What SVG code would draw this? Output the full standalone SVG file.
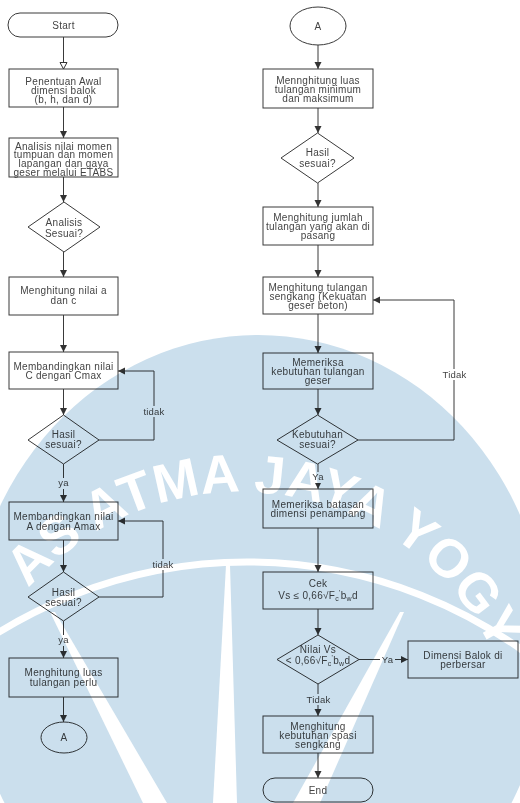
<svg xmlns="http://www.w3.org/2000/svg" width="520" height="803" viewBox="0 0 520 803">
<defs>
<style>
.n{fill:none;stroke:#3a3a3a;stroke-width:1}
.t{font-family:"Liberation Sans",Arial,sans-serif;font-size:10px;fill:#444;text-anchor:middle;letter-spacing:0.3px}
.l{font-family:"Liberation Sans",Arial,sans-serif;font-size:9.5px;fill:#444;text-anchor:middle;letter-spacing:0.2px}
.c{fill:none;stroke:#3a3a3a;stroke-width:1}
.lb{fill:#fff;stroke:none}
.ray{fill:#fff;stroke:none}
.s{font-size:7px}
</style>
<marker id="ah" markerUnits="userSpaceOnUse" markerWidth="8" markerHeight="8" refX="7" refY="3.5" orient="auto">
<path d="M0,0 L7,3.5 L0,7 z" fill="#333"/>
</marker>
<marker id="ahh" markerUnits="userSpaceOnUse" markerWidth="10" markerHeight="10" refX="7.5" refY="4.5" orient="auto">
<path d="M1,1 L7.5,4.5 L1,8 z" fill="#fff" stroke="#333" stroke-width="1"/>
</marker>
<path id="wmArc" d="M-40,772 A280,280 0 0 1 520,772"/>
</defs>
<rect x="0" y="0" width="520" height="803" fill="#fff"/>

<g id="connectors">
<path class="c" d="M63.5,37 V69" marker-end="url(#ahh)"/>
<path class="c" d="M63.5,107 V138" marker-end="url(#ah)"/>
<path class="c" d="M63.5,177 V202" marker-end="url(#ah)"/>
<path class="c" d="M63.5,252 V277" marker-end="url(#ah)"/>
<path class="c" d="M63.5,315 V352" marker-end="url(#ah)"/>
<path class="c" d="M63.5,389 V415" marker-end="url(#ah)"/>
<path class="c" d="M99,440 H154 V371 H118" marker-end="url(#ah)"/>
<path class="c" d="M63.5,464 V502" marker-end="url(#ah)"/>
<path class="c" d="M63.5,540 V572" marker-end="url(#ah)"/>
<path class="c" d="M99,597 H163 V521 H118" marker-end="url(#ah)"/>
<path class="c" d="M63.5,621 V658" marker-end="url(#ah)"/>
<path class="c" d="M63.5,697 V722" marker-end="url(#ah)"/>
<path class="c" d="M318,45 V69" marker-end="url(#ah)"/>
<path class="c" d="M318,108 V133" marker-end="url(#ah)"/>
<path class="c" d="M318,183 V207" marker-end="url(#ah)"/>
<path class="c" d="M318,245 V277" marker-end="url(#ah)"/>
<path class="c" d="M318,314 V353" marker-end="url(#ah)"/>
<path class="c" d="M318,389 V415" marker-end="url(#ah)"/>
<path class="c" d="M358,440 H454 V300 H373" marker-end="url(#ah)"/>
<path class="c" d="M318,464 V489" marker-end="url(#ah)"/>
<path class="c" d="M318,528 V572" marker-end="url(#ah)"/>
<path class="c" d="M318,609 V635" marker-end="url(#ah)"/>
<path class="c" d="M359,659.5 H408" marker-end="url(#ah)"/>
<path class="c" d="M318,684 V716" marker-end="url(#ah)"/>
<path class="c" d="M318,753 V778" marker-end="url(#ah)"/>
<rect class="lb" x="143" y="406" width="22" height="11"/>
<text class="l" x="154" y="415">tidak</text>
<rect class="lb" x="56" y="478" width="15" height="11"/>
<text class="l" x="63.5" y="486">ya</text>
<rect class="lb" x="152" y="559" width="22" height="11"/>
<text class="l" x="163" y="568">tidak</text>
<rect class="lb" x="56" y="635" width="15" height="11"/>
<text class="l" x="63.5" y="643">ya</text>
<rect class="lb" x="442" y="369" width="25" height="11"/>
<text class="l" x="454.5" y="378">Tidak</text>
<rect class="lb" x="311" y="472" width="15" height="11"/>
<text class="l" x="318" y="480">Ya</text>
<rect class="lb" x="380" y="654" width="15" height="11"/>
<text class="l" x="387.5" y="663">Ya</text>
<rect class="lb" x="306" y="694" width="25" height="11"/>
<text class="l" x="318.5" y="703">Tidak</text>
</g>

<g id="start"><rect class="n" x="8" y="13" width="110" height="24" rx="12"/><text class="t" x="63.5" y="28.5">Start</text></g>
<g id="penentuan"><rect class="n" x="9" y="69" width="109" height="38"/><text class="t" y="84.5"><tspan x="63.5">Penentuan Awal</tspan><tspan x="63.5" dy="9">dimensi balok</tspan><tspan x="63.5" dy="9">(b, h, dan d)</tspan></text></g>
<g id="analisis"><rect class="n" x="9" y="138" width="109" height="39"/><text class="t" y="149.5"><tspan x="63.5">Analisis nilai momen</tspan><tspan x="63.5" dy="8.8">tumpuan dan momen</tspan><tspan x="63.5" dy="8.8">lapangan dan gaya</tspan><tspan x="63.5" dy="8.8">geser melalui ETABS</tspan></text></g>
<g id="analisis-sesuai"><path class="n" d="M64,202 L100,227 L64,252 L28,227 Z"/><text class="t" y="226"><tspan x="64">Analisis</tspan><tspan x="64" dy="10.5">Sesuai?</tspan></text></g>
<g id="hitung-ac"><rect class="n" x="9" y="277" width="109" height="38"/><text class="t" y="294"><tspan x="63.5">Menghitung nilai a</tspan><tspan x="63.5" dy="9.5">dan c</tspan></text></g>
<g id="banding-c"><rect class="n" x="9" y="352" width="109" height="37"/><text class="t" y="369.5"><tspan x="63.5">Membandingkan nilai</tspan><tspan x="63.5" dy="9.5">C dengan Cmax</tspan></text></g>
<g id="hasil-1"><path class="n" d="M63.5,415 L99,440 L63.5,464 L28,440 Z"/><text class="t" y="437.5"><tspan x="63.5">Hasil</tspan><tspan x="63.5" dy="10.5">sesuai?</tspan></text></g>
<g id="banding-a"><rect class="n" x="9" y="502" width="109" height="38"/><text class="t" y="520"><tspan x="63.5">Membandingkan nilai</tspan><tspan x="63.5" dy="10">A dengan Amax</tspan></text></g>
<g id="hasil-2"><path class="n" d="M63.5,572 L99,597 L63.5,621 L28,597 Z"/><text class="t" y="595.5"><tspan x="63.5">Hasil</tspan><tspan x="63.5" dy="10.5">sesuai?</tspan></text></g>
<g id="luas-perlu"><rect class="n" x="9" y="658" width="109" height="39"/><text class="t" y="676"><tspan x="63.5">Menghitung luas</tspan><tspan x="63.5" dy="9.5">tulangan perlu</tspan></text></g>
<g id="conn-a-out"><ellipse class="n" cx="64" cy="737.5" rx="23" ry="15.5"/><text class="t" x="64" y="741">A</text></g>

<g id="conn-a-in"><ellipse class="n" cx="318" cy="26" rx="28" ry="19"/><text class="t" x="318" y="30">A</text></g>
<g id="luas-minmax"><rect class="n" x="263" y="69" width="110" height="39"/><text class="t" y="83.5"><tspan x="318">Mennghitung luas</tspan><tspan x="318" dy="9">tulangan minimum</tspan><tspan x="318" dy="9">dan maksimum</tspan></text></g>
<g id="hasil-3"><path class="n" d="M317.5,133 L354,158 L317.5,183 L281,158 Z"/><text class="t" y="156"><tspan x="317.5">Hasil</tspan><tspan x="317.5" dy="10.5">sesuai?</tspan></text></g>
<g id="jumlah"><rect class="n" x="263" y="207" width="110" height="38"/><text class="t" y="220.5"><tspan x="318">Menghitung jumlah</tspan><tspan x="318" dy="9">tulangan yang akan di</tspan><tspan x="318" dy="9">pasang</tspan></text></g>
<g id="sengkang"><rect class="n" x="263" y="277" width="110" height="37"/><text class="t" y="290.5"><tspan x="318">Menghitung tulangan</tspan><tspan x="318" dy="9">sengkang (Kekuatan</tspan><tspan x="318" dy="9">geser beton)</tspan></text></g>
<g id="periksa-geser"><rect class="n" x="263" y="353" width="110" height="36"/><text class="t" y="365.5"><tspan x="318">Memeriksa</tspan><tspan x="318" dy="9">kebutuhan tulangan</tspan><tspan x="318" dy="9">geser</tspan></text></g>
<g id="kebutuhan"><path class="n" d="M317.5,415 L358,440 L317.5,464 L277,440 Z"/><text class="t" y="437.5"><tspan x="317.5">Kebutuhan</tspan><tspan x="317.5" dy="10.5">sesuai?</tspan></text></g>
<g id="batasan"><rect class="n" x="263" y="489" width="110" height="39"/><text class="t" y="507.5"><tspan x="318">Memeriksa batasan</tspan><tspan x="318" dy="9.5">dimensi penampang</tspan></text></g>
<g id="cek"><rect class="n" x="263" y="572" width="110" height="37"/><text class="t" y="586.5"><tspan x="318">Cek</tspan><tspan x="318" dy="12">Vs ≤ 0,66√F</tspan><tspan class="s" dy="2">c</tspan><tspan class="s" dy="-6">'</tspan><tspan dy="4">b</tspan><tspan class="s" dy="2">w</tspan><tspan dy="-2">d</tspan></text></g>
<g id="nilai-vs"><path class="n" d="M318,635 L359,659.5 L318,684 L277,659.5 Z"/><text class="t" y="653"><tspan x="318">Nilai Vs</tspan><tspan x="318" dy="11">&lt; 0,66√F</tspan><tspan class="s" dy="2">c</tspan><tspan class="s" dy="-6">'</tspan><tspan dy="4">b</tspan><tspan class="s" dy="2">w</tspan><tspan dy="-2">d</tspan></text></g>
<g id="dimensi-balok"><rect class="n" x="408" y="641" width="110" height="37"/><text class="t" y="658.5"><tspan x="463">Dimensi Balok di</tspan><tspan x="463" dy="9">perbersar</tspan></text></g>
<g id="spasi"><rect class="n" x="263" y="716" width="110" height="37"/><text class="t" y="729.5"><tspan x="318">Menghitung</tspan><tspan x="318" dy="9">kebutuhan spasi</tspan><tspan x="318" dy="9">sengkang</tspan></text></g>
<g id="end"><rect class="n" x="263" y="778" width="110" height="24" rx="12"/><text class="t" x="318" y="794">End</text></g>

<g id="watermark" style="mix-blend-mode:multiply">
<ellipse cx="258" cy="650" rx="290" ry="315" fill="#cbdfed"/>
<circle cx="247" cy="1035" r="473" fill="none" stroke="#fff" stroke-width="7"/>
<polygon class="ray" points="50,612 55,612 167,803 143,803"/>
<polygon class="ray" points="226,565 230,565 237,803 213,803"/>
<polygon class="ray" points="400,612 404,612 320,803 293,803"/>
<text font-family="Liberation Sans, Arial, sans-serif" font-size="54" font-weight="bold" fill="#fff"><textPath href="#wmArc" startOffset="200">AS ATMA JAYA YOGY</textPath></text>
</g>
</svg>
